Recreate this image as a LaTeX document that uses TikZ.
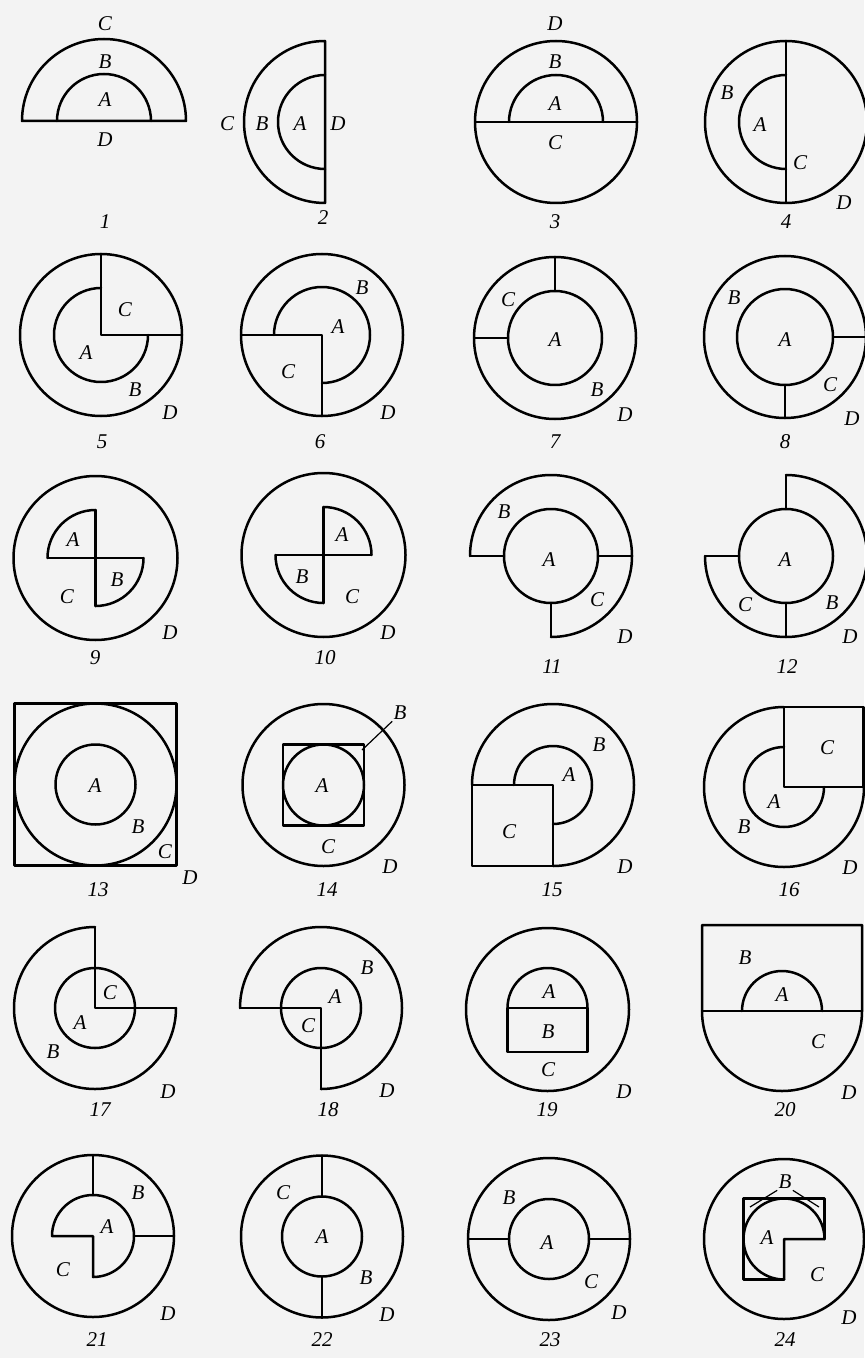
\documentclass[tikz,border=0pt]{standalone}
\usepackage{fontspec}
\setmainfont{Liberation Serif}
\definecolor{paper}{RGB}{243,243,243}
\begin{document}
\begin{tikzpicture}[x=0.5pt,y=0.5pt,
  ln/.style={line width=1.25pt,line join=round,line cap=round},
  leader/.style={line width=0.6pt},
  lbl/.style={font=\fontsize{10.5}{12}\selectfont\itshape,inner sep=0.5pt},
  num/.style={font=\fontsize{10.5}{12}\selectfont\itshape,inner sep=0.5pt}]
\fill[paper] (0,0) rectangle (864,-1358);
\useasboundingbox (0,0) rectangle (864,-1358);
% ---------- 1
\begin{scope}[shift={(104,-121)},ln]
\draw (-82,0) arc[start angle=180,end angle=0,radius=82] -- cycle;
\draw (-47,0) arc[start angle=180,end angle=0,radius=47];
\end{scope}
\node[lbl] (p1C) at (105,-24) {C};
\node[lbl] (p1B) at (105,-62) {B};
\node[lbl] (p1A) at (105,-100) {A};
\node[lbl] (p1D) at (105,-140) {D};
\node[num] (n1) at (105,-222) {1};
% ---------- 2
\begin{scope}[shift={(325,-122)},ln]
\draw (0,81) arc[start angle=90,end angle=270,radius=81] -- cycle;
\draw (0,47) arc[start angle=90,end angle=270,radius=47];
\end{scope}
\node[lbl] (p2C) at (227,-124) {C};
\node[lbl] (p2B) at (262,-124) {B};
\node[lbl] (p2A) at (300,-124) {A};
\node[lbl] (p2D) at (338,-124) {D};
\node[num] (n2) at (323,-218) {2};
% ---------- 3
\begin{scope}[shift={(556,-122)},ln]
\draw (0,0) circle[radius=81];
\draw (-81,0) -- (81,0);
\draw (-47,0) arc[start angle=180,end angle=0,radius=47];
\end{scope}
\node[lbl] (p3D) at (555,-24) {D};
\node[lbl] (p3B) at (555,-62) {B};
\node[lbl] (p3A) at (555,-104) {A};
\node[lbl] (p3C) at (555,-143) {C};
\node[num] (n3) at (555,-222) {3};
% ---------- 4
\begin{scope}[shift={(786,-122)},ln]
\draw (0,0) circle[radius=81];
\draw (0,81) -- (0,-81);
\draw (0,47) arc[start angle=90,end angle=270,radius=47];
\end{scope}
\node[lbl] (p4B) at (727,-93) {B};
\node[lbl] (p4A) at (760,-125) {A};
\node[lbl] (p4C) at (800,-163) {C};
\node[lbl] (p4D) at (844,-203) {D};
\node[num] (n4) at (786,-222) {4};
% ---------- 5
\begin{scope}[shift={(101,-335)},ln]
\draw (0,0) circle[radius=81];
\draw (0,81) -- (0,0) -- (81,0);
\draw (0,47) arc[start angle=90,end angle=360,radius=47];
\end{scope}
\node[lbl] (p5C) at (125,-310) {C};
\node[lbl] (p5A) at (86,-353) {A};
\node[lbl] (p5B) at (135,-390) {B};
\node[lbl] (p5D) at (170,-413) {D};
\node[num] (n5) at (102,-442) {5};
% ---------- 6
\begin{scope}[shift={(322,-335)},ln]
\draw (0,0) circle[radius=81];
\draw (-81,0) -- (0,0) -- (0,-81);
\draw (-48,0) arc[start angle=180,end angle=-90,radius=48];
\end{scope}
\node[lbl] (p6B) at (362,-288) {B};
\node[lbl] (p6A) at (338,-327) {A};
\node[lbl] (p6C) at (288,-372) {C};
\node[lbl] (p6D) at (388,-413) {D};
\node[num] (n6) at (320,-442) {6};
% ---------- 7
\begin{scope}[shift={(555,-338)},ln]
\draw (0,0) circle[radius=81];
\draw (0,0) circle[radius=47];
\draw (0,47) -- (0,81);
\draw (-47,0) -- (-81,0);
\end{scope}
\node[lbl] (p7C) at (508,-300) {C};
\node[lbl] (p7A) at (555,-340) {A};
\node[lbl] (p7B) at (597,-390) {B};
\node[lbl] (p7D) at (625,-415) {D};
\node[num] (n7) at (555,-442) {7};
% ---------- 8
\begin{scope}[shift={(785,-337)},ln]
\draw (0,0) circle[radius=81];
\draw (0,0) circle[radius=48];
\draw (48,0) -- (81,0);
\draw (0,-48) -- (0,-81);
\end{scope}
\node[lbl] (p8B) at (734,-298) {B};
\node[lbl] (p8A) at (785,-340) {A};
\node[lbl] (p8C) at (830,-385) {C};
\node[lbl] (p8D) at (852,-419) {D};
\node[num] (n8) at (785,-442) {8};
% ---------- 9
\begin{scope}[shift={(95.5,-558)},ln]
\draw (0,0) circle[radius=82];
\draw (0,48) -- (0,-48);
\draw (-48,0) -- (48,0);
\draw (0,48) arc[start angle=90,end angle=180,radius=48];
\draw (48,0) arc[start angle=0,end angle=-90,radius=48];
\end{scope}
\node[lbl] (p9A) at (73,-540) {A};
\node[lbl] (p9B) at (117,-580) {B};
\node[lbl] (p9C) at (67,-597) {C};
\node[lbl] (p9D) at (170,-633) {D};
\node[num] (n9) at (95,-658) {9};
% ---------- 10
\begin{scope}[shift={(323.5,-555)},ln]
\draw (0,0) circle[radius=82];
\draw (0,48) -- (0,-48);
\draw (-48,0) -- (48,0);
\draw (0,48) arc[start angle=90,end angle=0,radius=48];
\draw (-48,0) arc[start angle=180,end angle=270,radius=48];
\end{scope}
\node[lbl] (p10A) at (342,-535) {A};
\node[lbl] (p10B) at (302,-577) {B};
\node[lbl] (p10C) at (352,-597) {C};
\node[lbl] (p10D) at (388,-633) {D};
\node[num] (n10) at (325,-658) {10};
% ---------- 11
\begin{scope}[shift={(551,-556)},ln]
\draw (-81,0) arc[start angle=180,end angle=-90,radius=81];
\draw (0,0) circle[radius=47];
\draw (-81,0) -- (-47,0);
\draw (47,0) -- (81,0);
\draw (0,-47) -- (0,-81);
\end{scope}
\node[lbl] (p11B) at (504,-512) {B};
\node[lbl] (p11A) at (549,-560) {A};
\node[lbl] (p11C) at (597,-600) {C};
\node[lbl] (p11D) at (625,-637) {D};
\node[num] (n11) at (552,-667) {11};
% ---------- 12
\begin{scope}[shift={(786,-556)},ln]
\draw (0,81) arc[start angle=90,end angle=-180,radius=81];
\draw (0,0) circle[radius=47];
\draw (0,47) -- (0,81);
\draw (-47,0) -- (-81,0);
\draw (0,-47) -- (0,-81);
\end{scope}
\node[lbl] (p12A) at (785,-560) {A};
\node[lbl] (p12C) at (745,-605) {C};
\node[lbl] (p12B) at (832,-603) {B};
\node[lbl] (p12D) at (850,-637) {D};
\node[num] (n12) at (787,-667) {12};
% ---------- 13
\begin{scope}[shift={(95.5,-784.5)},ln]
\draw (-81,-81) rectangle (81,81);
\draw (0,0) circle[radius=81];
\draw (0,0) circle[radius=40];
\end{scope}
\node[lbl] (p13A) at (95,-786) {A};
\node[lbl] (p13B) at (138,-827) {B};
\node[lbl] (p13C) at (165,-852) {C};
\node[lbl] (p13D) at (190,-878) {D};
\node[num] (n13) at (98,-890) {13};
% ---------- 14
\begin{scope}[shift={(323.5,-785)},ln]
\draw (0,0) circle[radius=81];
\draw (-40.5,-40.5) rectangle (40.5,40.5);
\draw (0,0) circle[radius=40.5];
\end{scope}
\node[lbl] (p14B) at (400,-713) {B};
\coordinate (c14) at (362,-750);
\draw[leader] (p14B.south west) -- (c14);
\node[lbl] (p14A) at (322,-786) {A};
\node[lbl] (p14C) at (328,-847) {C};
\node[lbl] (p14D) at (390,-867) {D};
\node[num] (n14) at (327,-890) {14};
% ---------- 15
\begin{scope}[shift={(553,-785)},ln]
\draw (-81,0) arc[start angle=180,end angle=-90,radius=81];
\draw (-81,0) rectangle (0,-81);
\draw (-39,0) arc[start angle=180,end angle=-90,radius=39];
\end{scope}
\node[lbl] (p15B) at (599,-745) {B};
\node[lbl] (p15A) at (569,-775) {A};
\node[lbl] (p15C) at (509,-832) {C};
\node[lbl] (p15D) at (625,-867) {D};
\node[num] (n15) at (552,-890) {15};
% ---------- 16
\begin{scope}[shift={(784,-787)},ln]
\draw (0,80) arc[start angle=90,end angle=360,radius=80];
\draw (0,0) rectangle (79.5,80);
\draw (0,40) arc[start angle=90,end angle=360,radius=40];
\end{scope}
\node[lbl] (p16C) at (827,-748) {C};
\node[lbl] (p16A) at (774,-802) {A};
\node[lbl] (p16B) at (744,-827) {B};
\node[lbl] (p16D) at (850,-868) {D};
\node[num] (n16) at (789,-890) {16};
% ---------- 17
\begin{scope}[shift={(95,-1008)},ln]
\draw (0,81) arc[start angle=90,end angle=360,radius=81];
\draw (0,81) -- (0,0) -- (81,0);
\draw (0,0) circle[radius=40];
\end{scope}
\node[lbl] (p17C) at (110,-993) {C};
\node[lbl] (p17A) at (80,-1023) {A};
\node[lbl] (p17B) at (53,-1052) {B};
\node[lbl] (p17D) at (168,-1092) {D};
\node[num] (n17) at (100,-1110) {17};
% ---------- 18
\begin{scope}[shift={(321,-1008)},ln]
\draw (-81,0) arc[start angle=180,end angle=-90,radius=81];
\draw (-81,0) -- (0,0) -- (0,-81);
\draw (0,0) circle[radius=40];
\end{scope}
\node[lbl] (p18B) at (367,-968) {B};
\node[lbl] (p18A) at (335,-997) {A};
\node[lbl] (p18C) at (308,-1026) {C};
\node[lbl] (p18D) at (387,-1091) {D};
\node[num] (n18) at (328,-1110) {18};
% ---------- 19
\begin{scope}[shift={(547.5,-1009.5)},ln]
\draw (0,0) circle[radius=81.5];
\draw (-40,1.5) rectangle (40,-42.5);
\draw (-40,1.5) arc[start angle=180,end angle=0,radius=40];
\end{scope}
\node[lbl] (p19A) at (549,-992) {A};
\node[lbl] (p19B) at (548,-1032) {B};
\node[lbl] (p19C) at (548,-1070) {C};
\node[lbl] (p19D) at (624,-1092) {D};
\node[num] (n19) at (547,-1110) {19};
% ---------- 20
\begin{scope}[shift={(782,-1011)},ln]
\draw (-80,0) -- (-80,86) -- (80,86) -- (80,0) arc[start angle=0,end angle=-180,radius=80];
\draw (-80,0) -- (80,0);
\draw (-40,0) arc[start angle=180,end angle=0,radius=40];
\end{scope}
\node[lbl] (p20B) at (745,-958) {B};
\node[lbl] (p20A) at (782,-995) {A};
\node[lbl] (p20C) at (818,-1042) {C};
\node[lbl] (p20D) at (849,-1093) {D};
\node[num] (n20) at (785,-1110) {20};
% ---------- 21
\begin{scope}[shift={(93,-1236)},ln]
\draw (0,0) circle[radius=81];
\draw (-41,0) arc[start angle=180,end angle=-90,radius=41] -- (0,0) -- cycle;
\draw (0,41) -- (0,81);
\draw (41,0) -- (81,0);
\end{scope}
\node[lbl] (p21B) at (138,-1193) {B};
\node[lbl] (p21A) at (107,-1227) {A};
\node[lbl] (p21C) at (63,-1270) {C};
\node[lbl] (p21D) at (168,-1314) {D};
\node[num] (n21) at (97,-1340) {21};
% ---------- 22
\begin{scope}[shift={(322,-1236.5)},ln]
\draw (0,0) circle[radius=81];
\draw (0,0) circle[radius=40];
\draw (0,40) -- (0,81);
\draw (0,-40) -- (0,-81);
\end{scope}
\node[lbl] (p22C) at (283,-1193) {C};
\node[lbl] (p22A) at (322,-1237) {A};
\node[lbl] (p22B) at (366,-1278) {B};
\node[lbl] (p22D) at (387,-1315) {D};
\node[num] (n22) at (322,-1340) {22};
% ---------- 23
\begin{scope}[shift={(549,-1239)},ln]
\draw (0,0) circle[radius=81];
\draw (0,0) circle[radius=40];
\draw (-81,0) -- (-40,0);
\draw (40,0) -- (81,0);
\end{scope}
\node[lbl] (p23B) at (509,-1198) {B};
\node[lbl] (p23A) at (547,-1243) {A};
\node[lbl] (p23C) at (591,-1282) {C};
\node[lbl] (p23D) at (619,-1313) {D};
\node[num] (n23) at (550,-1340) {23};
% ---------- 24
\begin{scope}[shift={(784,-1239)},ln]
\draw (0,0) circle[radius=80];
\draw (40.5,0) arc[start angle=0,end angle=270,radius=40.5] -- (0,0) -- cycle;
\draw (0,-40.5) -- (-40.5,-40.5) -- (-40.5,40.5) -- (40.5,40.5) -- (40.5,0);
\end{scope}
\node[lbl] (p24B) at (785,-1182) {B};
\coordinate (c24l) at (750,-1207);
\coordinate (c24r) at (819,-1207);
\draw[leader] (p24B.south west) -- (c24l);
\draw[leader] (p24B.south east) -- (c24r);
\node[lbl] (p24A) at (767,-1238) {A};
\node[lbl] (p24C) at (817,-1275) {C};
\node[lbl] (p24D) at (849,-1318) {D};
\node[num] (n24) at (785,-1340) {24};
\end{tikzpicture}
\end{document}
